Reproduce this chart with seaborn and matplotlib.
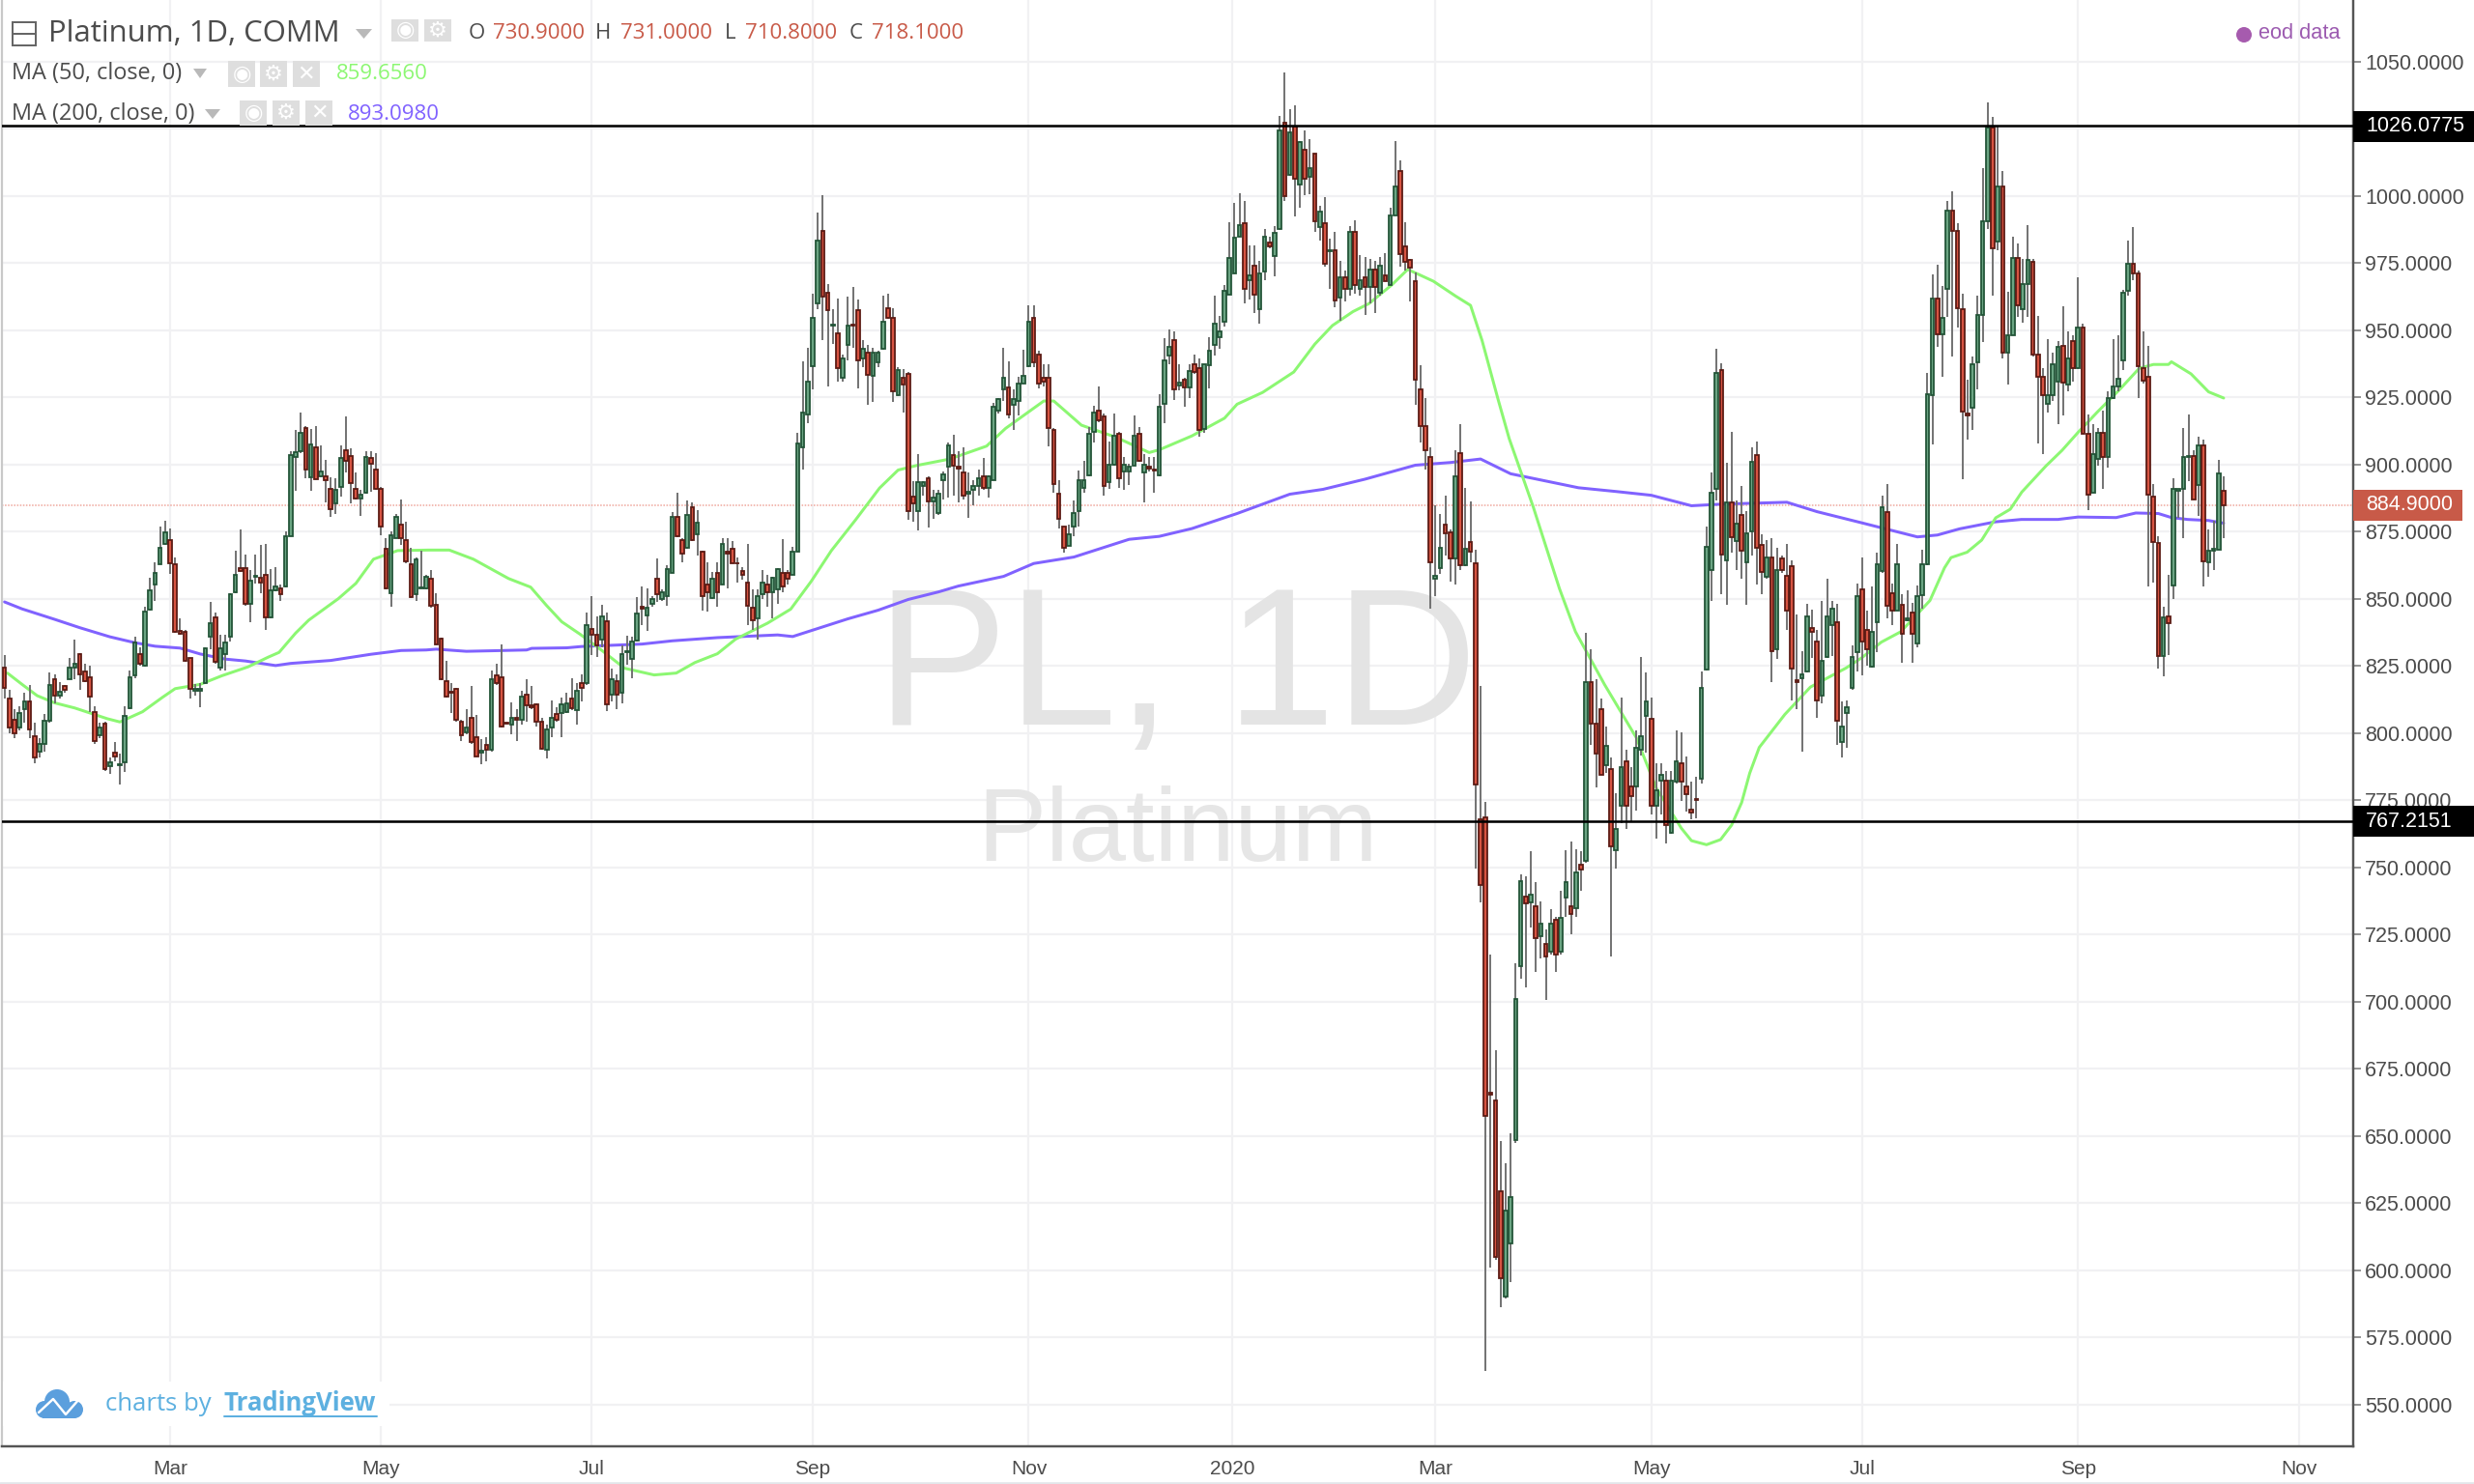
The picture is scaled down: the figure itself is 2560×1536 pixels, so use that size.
"""Platinum daily candles with MA 50 / MA 200, TradingView look."""

import numpy as np
import pandas as pd
import matplotlib
matplotlib.use('Agg')
import matplotlib.pyplot as plt
from matplotlib.patches import Rectangle, Circle, Polygon
from matplotlib.lines import Line2D
from matplotlib.transforms import Affine2D
import seaborn as sns

# ── DATA ─────────────────────────────────────────────────────────────────────
opens = [
    824.5,813,805,802,809,812,799,793,796,804.5,
    820,814,817.5,820,824.5,829.5,823,821,808,799.4,
    803.7,787.7,792.8,788,789.3,809.5,821.5,829.5,825.2,846,
    855.2,863.1,870.3,871.9,863.1,838,837.9,828,815.8,815.8,
    818.8,835.9,843,824.4,829.3,835.9,852.5,861.6,861.6,848,
    858.2,858,858.8,843,853.2,853.9,854.6,873.3,902.7,904.9,
    913.5,895.3,906.3,895.6,895.6,891.1,885.5,891.7,905.5,903.3,
    891.1,887.5,889.7,902.5,898.3,891.1,868.8,852.3,872.6,877.6,
    871.8,863,851.7,854.1,854,857.4,847.8,835.2,819.4,815.4,
    816.6,804.4,800.2,805.8,798.4,792.8,795.8,793.7,821.4,820.8,
    803.9,803.2,805.8,805.1,814.3,810.4,810.8,804.4,793.7,802.3,
    807,807.4,808,812.8,808.6,818.8,818.6,839,836.8,835,
    841.8,814.2,819.5,815,830.3,827.8,834.4,847.2,843.8,848.1,
    857.7,849.8,851.2,859.6,880.6,871.9,869.2,884.2,874.2,867.7,
    855.4,850.5,859.8,855.4,867.7,868.5,863.4,860.4,856.2,846.9,
    842.6,851.8,855.4,852.6,853.6,859.8,859.8,859.1,867.7,906.6,
    918.6,936.5,960.2,987,964,951.7,948.8,932.3,944.6,952,
    957.6,939.6,941.6,933,938.1,943.1,958.3,954.7,925.8,932.4,
    933.9,888,882.7,892.2,895.1,886.3,882,894.1,899.4,903.7,
    899.3,897.2,889.2,890.7,892.2,895.8,891.3,894.3,920.1,928.1,
    928.8,922.4,923.7,930.3,936.6,954.7,941.1,932.4,932.4,913,
    889.2,876.9,869.8,876.9,882.7,891.3,896.1,912.3,920.1,918,
    893.4,900.1,911.6,897.3,897.3,899.7,911.6,897,899.4,898.2,
    896.1,922.8,940.7,946.2,929.4,931.5,928.6,937.3,935.9,913.4,
    936.9,944.6,947.3,953.1,963.2,971.3,984.8,990,968.6,974.1,
    958,972,982.8,977.7,987.9,1027.3,1007.8,1025.9,1004.4,1017.2,
    1007.3,1015.8,988.4,989.9,979.3,979.7,962.1,969.7,965.5,986.5,
    965.5,969.7,966.2,972.7,963.9,970.4,966.9,992.8,1009.3,981.1,
    976.1,968.3,928,914.3,902.8,857.4,861.5,877.6,874.9,865.2,
    904.2,862.5,871.1,863.3,768,768.8,666.1,663.3,629.5,590.4,
    610.2,648.6,713.4,739.3,737,735.5,724.3,721.5,718.6,730.5,
    718.6,738.7,735.5,735,750.9,752.4,819,803.7,809.1,788.1,
    786.8,756.6,773.1,789.6,780.2,780.2,793.7,806.5,805.4,772.9,
    782.5,782.5,763,781.9,789,780.2,771.6,775.5,783.2,823.7,
    860.9,891.1,935.1,864.4,886,871.5,881.1,863.8,875.1,903.4,
    870.2,858.1,865.4,831.4,865.2,858.7,862.2,819.8,820.5,823,
    839.1,834.2,814,828.5,840.4,841.4,796.9,807.6,817,830.1,
    853.6,838.4,824.7,841.4,860.3,882.5,852.3,845.8,847.8,841.9,
    844.9,833.6,851.3,862.9,925.8,961.8,948.7,965.5,994.7,986.9,
    958,919.2,921.2,938,955.6,990.5,1025.4,983.2,1003.6,941.6,
    948,976.8,958,967.2,975.5,940.9,932.8,922.6,925.9,930.9,
    944.3,929.8,945.9,935.9,950.9,911.4,889.6,902.1,912,902.7,
    924.9,929,938.7,964.7,974.8,971.1,935.9,932.8,888.2,870.8,
    828.6,843.4,855.1,890.3,891,902.7,903.1,892.5,907,863.7,
    868,868.2,890.3,
]
highs = [
    829,816,809,810,815,818,804,798,807,822.5,
    822,819,818,828,835,830,826,825,810,804,
    804.4,791,796.6,792.5,810,823.5,836,832,847,858,
    863.6,877,879,876.4,865.4,842.7,838.5,828,818.2,818.8,
    832,848.9,845,836.7,836.7,852.3,867.8,876,866.6,860.6,
    866.6,870,870.5,861.2,861.8,855.2,875,904.9,913,919.5,
    914.5,913.3,914.5,907,901.9,895.3,895,907.3,918,906,
    897.1,890.5,905.1,905,904.3,891.7,872.6,875,881.6,887,
    878.6,869,865.4,867.8,859,860.6,852.3,835.5,827,818.8,
    817,805,809,817.6,806.8,797.8,798.4,823.5,826,833.1,
    804,811.6,809,815.8,820,817.6,811,805.6,803.2,812.2,
    809.8,813.4,815.2,820.6,818.8,821.8,845,851,843.4,847.8,
    845,824,822,832.8,836.3,836,850.6,854.8,854,851.2,
    865,853.6,862.6,882.4,889.5,872.8,886.5,886,883,868,
    863.8,860.2,863.8,872.8,872.8,871.6,865.6,861.7,870.4,853.6,
    853.6,860.8,859,858.4,861.4,872.2,860.8,869.4,911.7,938.4,
    943.5,963.8,993.8,1000.2,967.2,958,962,941,962.6,966.2,
    961.4,946.2,944.6,943.5,942.3,962.9,963.6,958.4,936.3,935.6,
    934.5,893.7,903.9,893.7,895.5,890.7,890.7,897.3,908.1,911,
    905,906.3,897,894.3,898,902.5,896.1,923.1,924.9,943.5,
    938.4,927.9,932.7,942.9,959.3,959.3,942.5,937.5,937.5,913.5,
    894.3,876.9,877.6,886.5,897.9,901.5,914,921.9,929,918.9,
    908.7,918.9,912.3,902.7,900.3,918.3,914.1,904,902.7,902.7,
    926.1,947,950.4,949.7,937.3,932.5,937.3,941,939.6,937.4,
    947.6,962.8,955.2,966.9,990.3,997.5,1001,998.3,981.6,981.6,
    975.9,987.9,984.8,989,1029.9,1046.1,1032.4,1033.7,1020.6,1024.5,
    1021.3,1015.8,996.5,999.6,984.1,986.5,975.9,972.4,989,991,
    977.9,977.2,976.6,975.9,977.2,978.6,995.8,1020.4,1013.3,990.3,
    976.5,971.7,936.9,924.9,906.3,885,881.5,888.6,876,905.2,
    915.2,891.5,886.3,868.4,817.6,774.6,717.7,682,648.3,639.8,
    651.1,714.5,747.4,746.8,756.2,744.4,737.4,727.1,734.6,731.8,
    741.2,756.3,759.6,756.7,756.2,837.3,831.3,820,812.9,802.5,
    790.9,777.8,813.4,793.7,787.5,801.2,828.4,822.8,813.4,788.9,
    789,785.8,785.8,801.2,800.5,791.3,781.9,783.8,823,877,
    897.2,943.2,937.7,900.8,912.3,886.6,892.2,882.8,906.6,908.7,
    874,871.9,872.5,868.9,866,870.6,864.2,844.2,830.7,848,
    846.1,838.4,849.4,857.5,849.4,848.1,812,812.1,832.7,855.8,
    865.4,845.5,854.5,867.4,888.6,892.8,855.8,870.6,851.9,853.2,
    848.7,855.1,868.4,934.2,970.8,974.4,966.5,998.2,1001.9,990,
    963.7,931.6,940.2,963,1010.4,1034.9,1029.6,1026.4,1009.5,964.4,
    985,982.2,976.5,989.3,976.5,955.4,935.9,946.9,941.6,945.9,
    959,949.7,948.3,969.8,952.6,918.8,915.2,913.8,920.2,927.3,
    946.9,948.3,965.1,983.6,988.6,972.2,949.7,944.4,892.7,873.2,
    847.2,859,895,891,913.8,918.8,905.3,910.3,909.3,876,
    879,901.7,895.6,
]
lows = [
    813,800,798,801,804,798,789,791,793,804,
    811,813,815,820,820,816,819,808,796,798,
    786,785,789.5,781,785.6,809,820.6,825,824.8,845.7,
    849.3,863,870.2,859.4,837.3,836.7,826.5,812.8,814,809.8,
    818.2,831.3,826,823.5,823.5,834.3,852.3,860,847.5,841.5,
    855.8,852,838.5,842.7,852.9,849.3,854.4,873.3,890.3,904.3,
    895,890.3,894.7,895.3,886,880.4,881.6,888.1,897.1,885.5,
    887,881,889.3,890,890.8,873.8,853.4,847.2,872.5,870.2,
    863.3,850.5,849.3,854,853.7,846.9,833,819.8,813.4,807.4,
    804.4,797.2,799.6,796,791.3,788.3,789.5,793.1,818,802,
    803.5,799.6,797,803.2,804.4,809,802.6,793.7,790.7,798.4,
    804.4,798.4,807.4,808.6,803.2,811.8,818,829,828.4,832,
    808.3,812,809,811.2,825.6,820.6,834,840.4,838,847,
    848.8,849.4,847.6,859.6,873,863.8,868.6,871.6,866.2,845.8,
    845.2,850,847,855.4,854,863.4,856,857.2,840.4,838.6,
    835,850,847,842.8,848.2,852.4,855.4,859,867.7,898,
    915.6,927.9,957.8,946.4,929,945,930.9,931,938.7,943.5,
    928.5,936.3,922.1,923.3,936.3,942.9,954.2,923.3,925.5,919.3,
    879.4,878.8,875.4,888.4,876.6,880,881.2,887.2,887.8,888.4,
    886,887,880.2,884.8,888.4,890.7,887.8,894.3,919,923.7,
    917.1,912.9,918.3,930.3,936.3,936.3,928.5,929,906.9,889.5,
    876.4,867.4,869.8,873.4,876.9,889.5,895.5,908.4,915.9,888.4,
    891,899.7,891.3,890.7,892.5,899.7,900.9,886,897.3,889.5,
    895.5,915.6,937.3,924.2,927.6,921.4,924.9,933.9,910.4,911.8,
    928.3,940.7,943.2,951.5,963.2,971.3,984.8,960,961.4,956.6,
    952.4,968.6,980.7,970.3,987.5,998.3,1007.6,992.4,995.6,1000.4,
    1000.7,986.6,983.4,973.8,965.5,958.6,953.4,960.7,963,963.5,
    963,955.9,960,956.6,963,968.3,966.9,992.8,973.8,972.4,
    960.7,922.1,908.3,898.3,846.3,850.9,859.4,866.3,856.4,855.3,
    860.8,862.2,863.5,749.6,736.9,562.5,600.9,604.1,586.3,589.7,
    595.7,647.3,708.7,705.5,727.5,711.1,716.2,700.8,717.7,711.1,
    717.7,731.8,725.2,731.8,741.2,751.9,795.6,780,784.5,785.4,
    716.8,749.6,766.5,764.3,767.4,771.2,791.8,792.8,769.9,760.7,
    769.7,758.8,762.6,781.3,774.8,771,767.8,768.4,781.3,823.4,
    849.4,886.6,851.9,847.8,867.4,860.7,857.7,847.8,866.1,855.5,
    851.9,857.7,819.2,827.5,859.7,838.4,812.3,808.9,793.1,822.6,
    828,805.9,811,828,828.8,795.8,790.9,794.4,816.2,823,
    821.7,825,824.3,830.1,859.6,842.9,840.4,845.5,826.2,841.6,
    826.2,832,846.2,862.5,907.4,944,932.6,955.1,940.2,950.9,
    894.6,909.5,913.1,928.1,945.6,987.6,963,980,939.7,929.8,
    948,955.1,953,955.1,940.2,907.9,903.8,919.5,923.8,915.2,
    918.4,927.4,930.9,935.5,911.5,883.2,889.6,899.6,891,898.9,
    924.5,927.4,935.2,963,968.7,924.9,930.2,854.7,856.2,824.1,
    821.2,829,850,880.3,872.8,894,887,880.8,854.7,858.3,
    860.8,868.2,872.8,
]
closes = [
    817,802,800,807.5,812,801.5,791,796,804.5,818,
    814,815.5,816,824.5,826,822,819.5,813.5,797,802.3,
    786.5,789.3,791.3,788.6,806.6,821,833.7,825.7,845.3,853.2,
    859.7,869,874.7,863.3,837.9,837,827.1,816.4,816.6,816.6,
    831.7,841,826.5,831.6,833.7,851.7,858.8,860.4,848,856.7,
    858.6,856.1,843,853.2,854.6,851.7,873.2,903.4,904.6,912,
    898.3,907.5,894.7,897.3,894.1,883.3,890.5,902.5,901.3,893.3,
    887.5,888.7,902.7,900.5,891.1,876.8,853.8,873.8,880.4,872.6,
    863.9,850.8,864.6,854.4,858.2,847.5,833.1,820,813.7,815.2,
    805,799.4,802,796.6,791.5,793.6,793.7,820.2,818.8,802.4,
    803.7,805.6,805.1,813.6,810.4,809.6,804.4,794.3,801.4,805.6,
    805.1,810.6,811,809.2,815.8,817,840.4,836.6,832.8,843.4,
    810.6,820.2,814.2,829.6,830.5,834,844.6,846.4,846.8,849.8,
    851.8,852.4,861.2,880.6,873.4,867,881.4,871.9,878.5,851.2,
    852.4,857.7,852.6,870.6,867,863.4,863.2,859,847.6,841.9,
    851.2,856.2,852.6,857.8,861.2,854.8,857.7,867.7,908,919.5,
    930.9,954.7,983.6,962.6,957.4,952,935.9,939.6,951.9,951.8,
    938.9,943.1,933.6,941.6,941.6,953.3,954.5,927.2,935.3,930,
    882.8,885.5,893.5,893.5,886.3,887.8,889.2,896.5,907.3,899.7,
    898.4,888.6,889.9,892.2,895.1,891.3,895.8,921.7,924.5,932.4,
    918.6,924.5,930.3,933,953.3,938.1,930.3,930.9,913.8,892.9,
    879.8,869.2,874.2,882,894.3,894.3,911.6,919.5,916.5,892.2,
    900.1,910.9,895,900.1,899.4,910.9,901.5,900.1,898.4,897.7,
    921.7,938.9,943.8,928,930.7,928.6,934.9,934.5,912.9,937.3,
    942.4,952.4,949.7,964.8,977,984.4,989.2,965.5,970.4,963.2,
    971.3,984.8,981.4,986.2,1024.5,1000,1023.7,1006.6,1020.2,1006.6,
    1010.3,990.7,994.2,974.8,980,961.1,969.7,965.5,986.5,966.9,
    968.6,966.2,972.7,966.2,974.1,968.3,992.8,1003.7,978.5,975.6,
    973.4,931.6,914.3,905.2,863.8,858.7,869.1,874.6,865.2,895.7,
    862.5,868.8,867.7,781,743.6,657.6,665.5,605.1,597.2,622.4,
    627.2,701.2,744.9,736.5,739.8,723.7,729,716.8,729,717.7,
    731.2,744.4,732.7,748.1,749.2,819,803.7,792.4,784.5,795.2,
    757.9,764.4,787.5,773.1,776.5,794.7,798.8,811.9,773.1,778.9,
    784.5,765.8,782.5,789.6,781.9,777.4,770.3,775.2,817,869.5,
    889.6,934.2,866.7,886,873.1,878,868,874.4,901.2,868.9,
    860,865.4,830.6,860.7,860.7,845.8,824.2,819.2,822,843.6,
    837.8,812.1,826.9,843.6,846.5,804.8,802.4,809.8,828.4,850.9,
    834.3,831.4,837.8,862.9,884.1,847.3,845.8,862.9,837.2,842.9,
    837.2,850.9,863.1,926.2,962,948.7,954.6,994.7,986.9,958.3,
    919.8,918.5,937.3,955.8,990.5,1025.4,980.5,1003.6,941.6,948,
    976.8,959.4,967.2,976.2,940.9,932.8,925.9,925.9,937.3,943.7,
    930.6,939.7,935.9,950.9,911.5,888.9,904.1,911.7,902.7,924.9,
    929.2,932,964,974.8,971.1,936.6,931.2,888.9,871.1,828.6,
    843.3,840.9,891,891,902.7,903.1,887,907,864,868,
    868.5,896.7,884.9,
]

# moving averages at the bends (bar number, value)
ma50_bar = [0.6,3.5,6.5,10,14,20.5,23,27.5,31.5,34,39,43.3,48.5,52.5,54.7,58,60.6,66.5,70,73.5,
            78.3,84.5,88.6,93.4,100.4,104.8,108,111,114.7,119,123.5,129.4,133.8,137.5,142,145.6,
            152,156.6,160.7,164.7,169.5,174.3,178,181.7,188.3,195.6,199.4,207,209,214.5,221.4,228,
            230.1,236.5,243,245.5,250.6,256.8,261,264.5,268.6,271.8,276.3,279.5,284.6,289,292,294.3,
            297.5,299.7,304.5,309.7,312.9,318.7,325,329,334,336,339,341.8,344,346,347.6,349.5,
            354.6,359.7,366.8,370,373.8,377.7,383.5,386.4,387.7,390.9,393.8,396.6,399.5,401.8,
            406.6,409.8,413,416.8,421.3,425.2,428,431,431.6,435.5,439,442]
ma50_val = [822.4,818.2,814,811.3,809.4,805.4,804.2,808,813.4,816.6,818.2,821.4,824.7,828.3,830.1,837.3,842.1,850.1,855.8,864.8,
            868,868.2,868.2,864.8,857.6,854.4,847.5,841.5,836.8,830.8,824.2,821.7,822.4,826.3,829.6,835,
            841,846.2,856.6,868,879.4,891.3,898,899.7,902.1,906.9,913.5,923.7,923.7,914.7,910.2,904.5,
            905.6,910.7,917.3,922.5,926.9,934.5,944.9,951.8,957,960,966.9,972.7,968.3,962.8,959.3,946.2,
            924.2,909.7,884.2,853.9,837.8,818.1,798.4,779.6,764.6,760,758.5,760.4,765.8,774.2,785.1,794.7,
            807,817.2,824.3,828.2,833.9,837.8,849.4,861.6,865.4,867.4,871.9,880.2,883.4,889.8,
            899.5,905.3,912,919.5,928,935.9,937.3,937.3,938.3,933.8,927.1,924.8]

ma200_bar = [0,3.5,10,15,21,26,30,35,39,44,48,54,57,65,73,79,84,86,92,97,104,105,112,
             115,127,133,142,154,157,162,168,174,180,186,190,199,205,213,218,224,230,
             236.5,245.5,256,262.6,271,281,288,294,300,305.2,313.5,321,328,336,342,355,361,
             370,381,385,389.4,396.5,401.7,409,413,420.6,424.5,429,431.6,434.8,439,442]
ma200_val = [848.9,846.3,842.4,839.3,835.9,833.7,832.4,831.7,829.5,827.6,826.9,825.2,826,827.1,829.4,830.8,831,831.3,830.5,830.7,831,831.6,831.8,
             832.3,833.2,834.4,835.6,836.6,836,839,842.6,845.8,849.8,852.6,854.8,858.4,863.2,865.6,868.6,872.2,873.3,
             876.2,881.8,889,890.8,894.6,899.8,900.8,902.1,896.6,894.6,891.4,890,888.6,884.7,885.3,886,882.5,
             878.3,873.1,873.8,876.1,878.7,879.6,879.6,880.5,880.3,882,881.8,880.3,879.6,879.2,878.2]

y_ticks = list(range(550, 1051, 25))
month_bars = [33, 75, 117, 161, 204, 244.5, 285, 328, 370, 413, 457]
month_labels = ['Mar', 'May', 'Jul', 'Sep', 'Nov', '2020', 'Mar', 'May', 'Jul', 'Sep', 'Nov']
level_high = 1026.0775
level_low = 767.2151
last_price = 884.9

# ── STYLE ────────────────────────────────────────────────────────────────────
W, H = 2560, 1536
GRID = '#f1f1f3'
TEXT = '#4c4c4c'
UP_FILL, UP_EDGE = '#6ba583', '#225437'
DOWN_FILL, DOWN_EDGE = '#d75442', '#5b1a13'
WICK = '#6e6e6e'
MA50_COL = '#8cf772'
MA200_COL = '#8062ff'
RED_TXT = '#c85a48'

sns.set_theme(style='white')
plt.rcParams['font.family'] = ['Liberation Sans', 'DejaVu Sans']

df = pd.DataFrame({'open': opens, 'high': highs, 'low': lows, 'close': closes})
df['bar'] = np.arange(len(df))
df['up'] = df['close'] >= df['open']
ma50 = pd.DataFrame({'bar': ma50_bar, 'value': ma50_val})
ma200 = pd.DataFrame({'bar': ma200_bar, 'value': ma200_val})

fig = plt.figure(figsize=(16, 9.6), dpi=160, facecolor='white')
ax = fig.add_axes([2 / W, 1 - 1497 / H, (2435 - 2) / W, 1497 / H])
px = Affine2D().scale(1 / W, -1 / H).translate(0, 1) + fig.transFigure

# ── CHART ────────────────────────────────────────────────────────────────────
ax.set_xlim(-0.5, 467.8)
ax.set_ylim(534.5, 1073)
ax.set_axisbelow(True)
ax.grid(True, color=GRID, lw=1.0)

ax.text(1218, 697, 'PL, 1D', transform=px, ha='center', va='center', fontsize=91.5,
        color='#e4e4e4', zorder=1)
ax.text(1218, 863, 'Platinum', transform=px, ha='center', va='center', fontsize=48,
        color='#e6e6e6', zorder=1)

ax.axhline(last_price, color='#efa99f', lw=0.7, ls=(0, (1, 1)), zorder=1.5)
sns.lineplot(data=ma200, x='bar', y='value', ax=ax, color=MA200_COL, lw=1.35, zorder=2,
             estimator=None, errorbar=None)
sns.lineplot(data=ma50, x='bar', y='value', ax=ax, color=MA50_COL, lw=1.35, zorder=2,
             estimator=None, errorbar=None)

ax.vlines(df['bar'], df['low'], df['high'], color=WICK, lw=0.85, zorder=3)
for up, fill, edge in [(True, UP_FILL, UP_EDGE), (False, DOWN_FILL, DOWN_EDGE)]:
    part = df[df['up'] == up]
    ax.bar(part['bar'], (part['close'] - part['open']).abs(),
           bottom=part[['open', 'close']].min(axis=1), width=0.7,
           color=fill, edgecolor=edge, lw=0.8, zorder=4)

ax.axhline(level_high, color='black', lw=1.15, zorder=5)
ax.axhline(level_low, color='black', lw=1.15, zorder=5)

ax.set_xlabel('')
ax.set_ylabel('')
ax.yaxis.tick_right()
ax.set_yticks(y_ticks)
ax.set_yticklabels([f'{v:.4f}' for v in y_ticks], fontsize=9.7, color=TEXT)
ax.set_xticks(month_bars)
ax.set_xticklabels(month_labels, fontsize=9.4, color=TEXT)
ax.tick_params(axis='y', length=3.6, width=0.7, color='#777777', pad=1.8)
ax.tick_params(axis='x', length=3.6, width=0.7, color='#555555', pad=2.8)
ax.spines['top'].set_visible(False)
ax.spines['left'].set_color('#c9c9c9')
ax.spines['left'].set_linewidth(1.0)
for side in ['right', 'bottom']:
    ax.spines[side].set_color('#555555')
    ax.spines[side].set_linewidth(1.1)

# ── PRICE LABELS ON THE AXIS ─────────────────────────────────────────────────
def tag(value, x_end, fill):
    y = 203 + (1000 - value) * 2.78
    fig.add_artist(Rectangle((2435, y - 16), x_end - 2435, 32, transform=px, fc=fill, ec='none', zorder=6))
    fig.text(2448, y, f'{value:.4f}', transform=px, color='white', fontsize=9.7, va='center', ha='left', zorder=7)

tag(level_high, 2560, 'black')
tag(last_price, 2548, RED_TXT)
tag(level_low, 2560, 'black')

# ── LEGEND / HEADER ──────────────────────────────────────────────────────────
def label(x, y, s, color=TEXT, size=10, family='Open Sans', **kw):
    return fig.text(x, y, s, transform=px, color=color, fontsize=size, family=family,
                    va='center', ha='left', zorder=8, **kw)

def buttons(xs, y0, y1, glyphs):
    for x0, g in zip(xs, glyphs):
        fig.add_artist(Rectangle((x0, y0), 28, y1 - y0, transform=px, fc='#dedede', ec='none', zorder=8))
        fig.text(x0 + 14, (y0 + y1) / 2, g, transform=px, color='white', fontsize=10, family='DejaVu Sans',
                 fontweight='bold', ha='center', va='center', zorder=9)

def arrow(x0, x1, y):
    fig.add_artist(Polygon([(x0, y - 5), (x1, y - 5), ((x0 + x1) / 2, y + 5)], transform=px,
                           fc='#b9b9b9', ec='none', zorder=8))

fig.add_artist(Rectangle((13, 23), 24, 24, transform=px, fc='none', ec='#666666', lw=0.9, zorder=8))
fig.add_artist(Line2D([13, 37], [35, 35], transform=px, color='#666666', lw=0.9, zorder=8))
label(50, 35, 'Platinum, 1D, COMM', size=14)
arrow(368, 385, 35)
buttons([405, 439], 20, 43, ['◉', '⚙'])
label(485, 35, 'O')
label(510, 35, '730.9000', RED_TXT)
label(616, 35, 'H')
label(642, 35, '731.0000', RED_TXT)
label(750, 35, 'L')
label(771, 35, '710.8000', RED_TXT)
label(879, 35, 'C')
label(902, 35, '718.1000', RED_TXT)

label(12, 76, 'MA (50, close, 0)', size=10.6)
arrow(200, 214, 76)
buttons([236, 269, 303], 63, 90, ['◉', '⚙', '✕'])
label(348, 76, '859.6560', MA50_COL)
label(12, 118, 'MA (200, close, 0)', size=10.6)
arrow(212, 228, 118)
buttons([248, 282, 316], 104, 130, ['◉', '⚙', '✕'])
label(360, 118, '893.0980', MA200_COL)

fig.add_artist(Circle((2322, 36), 8, transform=px, fc='#a65bae', ec='none', zorder=8))
label(2337, 35, 'eod data', '#9c5bb0', 9.8, 'Liberation Sans')

# ── LOGO ─────────────────────────────────────────────────────────────────────
fig.add_artist(Rectangle((3, 1430), 400, 46, transform=px, fc='white', ec='none', zorder=1))
for cx, cy, r in [(59, 1451, 13), (46, 1459, 9), (77, 1459, 9)]:
    fig.add_artist(Circle((cx, cy), r, transform=px, fc='#5b9fdd', ec='none', zorder=2))
fig.add_artist(Rectangle((44, 1455), 34, 13, transform=px, fc='#5b9fdd', ec='none', zorder=2))
fig.add_artist(Line2D([40, 55, 68, 82], [1462, 1448, 1464, 1448], transform=px, color='white', lw=1.1, zorder=3))
label(109, 1453, 'charts by', '#5db0e0', 11.6)
label(232, 1453, 'TradingView', '#5db0e0', 11.6, fontweight='bold')
fig.add_artist(Line2D([232, 390], [1466, 1466], transform=px, color='#5db0e0', lw=0.9, zorder=8))

fig.add_artist(Line2D([0, W], [1535, 1535], transform=px, color='#e3e6ea', lw=1.2, zorder=8))

fig.savefig('out.png', dpi=160, facecolor='white')
